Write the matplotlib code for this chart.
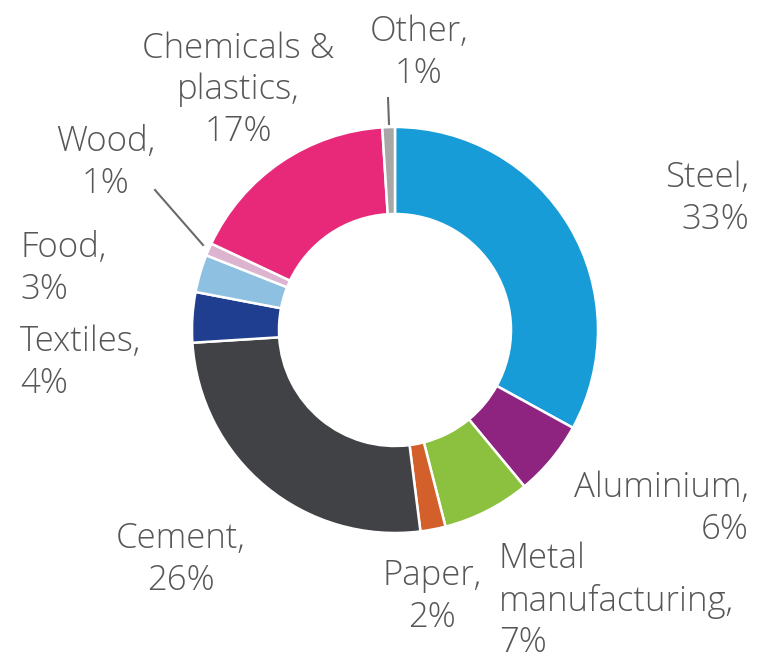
import matplotlib.pyplot as plt

# Share of industrial energy use by sector (%)
sectors = ['Steel', 'Aluminium', 'Metal manufacturing', 'Paper', 'Cement',
           'Textiles', 'Food', 'Wood', 'Chemicals & plastics', 'Other']
shares = [33, 6, 7, 2, 26, 4, 3, 1, 17, 1]
colors = ['#189cd8', '#8e2480', '#8cc03f', '#d3602a', '#414246',
          '#1f3e8f', '#8ec0e1', '#dcb4cf', '#e8297a', '#a7a7a7']

# label text, position (pixels), alignment
labels = [
    ('Steel,\n33%', (749, 199), 'right'),
    ('Aluminium,\n6%', (749, 509), 'right'),
    ('Metal\nmanufacturing,\n7%', (499, 601), 'left'),
    ('Paper,\n2%', (432, 597), 'center'),
    ('Cement,\n26%', (181, 560), 'center'),
    ('Textiles,\n4%', (20, 363), 'left'),
    ('Food,\n3%', (20, 269), 'left'),
    ('Wood,\n1%', (106, 163), 'center'),
    ('Chemicals &\nplastics,\n17%', (238, 90), 'center'),
    ('Other,\n1%', (419, 53), 'center'),
]

W, H = 758, 659
fig = plt.figure(figsize=(W / 100, H / 100), dpi=100)
ax = fig.add_axes([0, 0, 1, 1])

ax.pie(shares, colors=colors, center=(395, 330), radius=203,
       startangle=-90, counterclock=True,
       wedgeprops=dict(width=87, edgecolor='white', linewidth=1.8))

# pie() resets the limits, so set pixel-like coordinates afterwards
ax.set_xlim(0, W)
ax.set_ylim(H, 0)
ax.set_aspect('equal')
ax.axis('off')

for text, (x, y), ha in labels:
    ax.text(x, y, text, ha=ha, va='center', fontsize=25, color='#575757',
            family='Open Sans', fontweight='light', linespacing=1.27)

# leader lines for the two thin slices
ax.plot([388, 389], [98, 124], color='#6a6a6a', lw=1.5)
ax.plot([155, 203], [190, 245], color='#6a6a6a', lw=1.5)

fig.savefig('out.png', dpi=100)
